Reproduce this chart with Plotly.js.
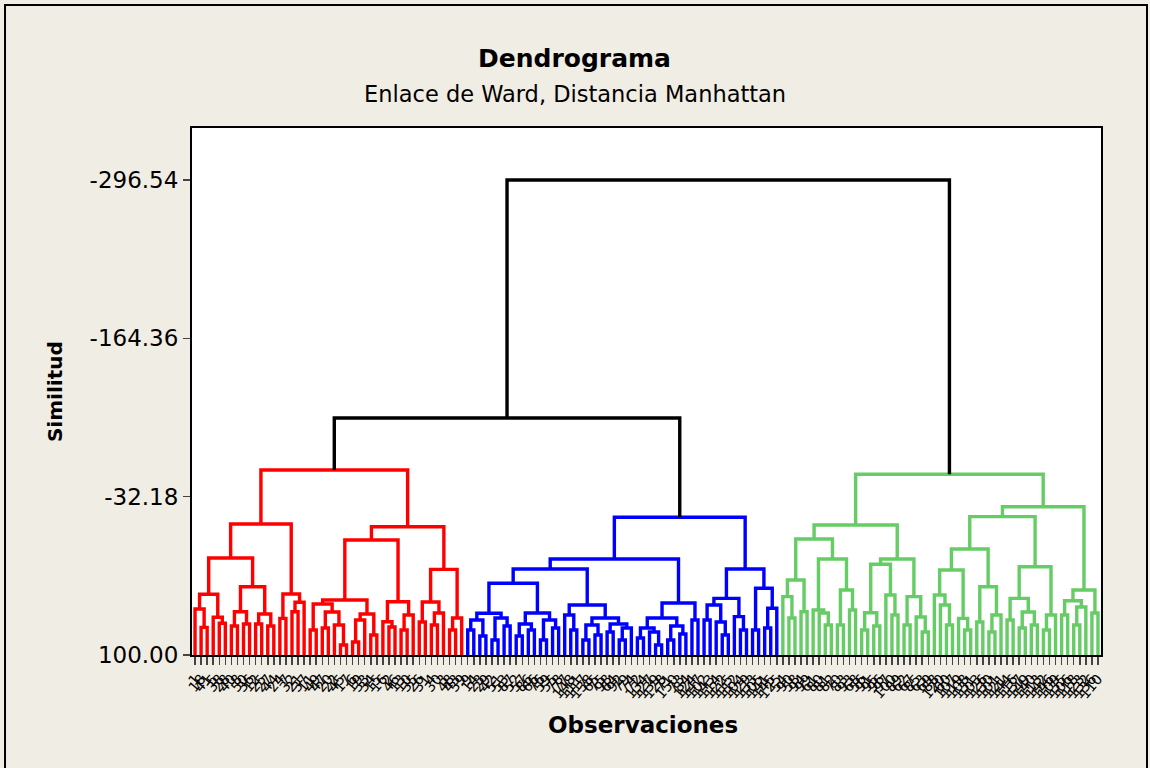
<!DOCTYPE html>
<html><head><meta charset="utf-8">
<script src="https://cdn.plot.ly/plotly-3.0.1.min.js"></script>
<style>html,body{margin:0;padding:0;background:#F0EDE4;} #chart{width:1150px;height:768px;}</style>
</head><body><div id="chart"></div>
<script>
// Dendrogram trees: node = [similarity, left, right]; leaf = leaf id
const redTree = [-54.4,
 [-9.4,
  [19.0,
   [49.3, [61.6, 0, [76.9, 1, 2]], [68.5, 3, [73.5, 4, 5]]],
   [43.0, [63.9, [75.8, 6, 7], [74.1, 8, 9]], [65.8, [74.1, 10, 11], [75.8, 12, 13]]]
  ],
  [49.1, [69.4, 14, 15], [56.0, [63.9, 16, 17], 18]]
 ],
 [-7.1,
  [4.0,
   [54.1,
    [57.4, [79.1, 19, 20], [64.1, [77.5, 21, 22], [75.0, 23, [91.7, 24, 25]]]],
    [65.8, [70.8, [89.2, 26, 27], 28], [83.3, 29, 30]]
   ],
   [55.5, [72.2, 31, [76.6, 32, 33]], [66.6, [79.1, 34, 35], 36]]
  ],
  [28.5,
   [55.8, [72.5, 37, 38], [64.9, [75.0, 39, 40], 41]],
   [69.1, [79.1, 42, 43], 44]
  ]
 ]
];
const blueTree = [-15.0,
 [19.9,
  [28.2,
   [40.1,
    [65.2, [70.8, [79.1, 45, 46], [84.1, 47, 48]], [69.1, [87.5, 49, 50], [75.8, 51, 52]]],
    [64.9, [74.1, [84.1, 53, 54], [79.1, 55, 56]], [70.8, [87.5, 57, 58], [77.5, 59, 60]]]
   ],
   [58.3,
    [66.6, 61, [79.1, 62, 63]],
    [69.1, [75.0, [87.5, 64, 65], [83.3, 66, 67]], [74.1, [80.8, 68, 69], [77.5, [87.5, 70, 71], 72]]]
   ]
  ],
  [56.6,
   [69.1, [77.5, [85.8, 73, 74], [80.8, 75, [91.7, 76, 77]]], [75.8, [87.5, 78, 79], [82.5, 80, 81]]],
   [70.8, 82, 83]
  ]
 ],
 [28.2,
  [52.7,
   [58.3, [70.8, 84, 85], [72.5, 86, [83.3, 87, 88]]],
   [68.0, 89, [79.1, 90, 91]]
  ],
  [44.3,
   [79.1, 92, 93],
   [61.0, [77.5, 94, 95], 96]
  ]
 ]
];
const greenTree = [-50.9,
 [-8.5,
  [3.2,
   [37.4, [51.3, 97, [69.1, 98, 99]], [63.9, 100, 101]],
   [19.9, [62.4, 102, [64.9, 103, [75.0, 104, 105]]], [45.7, [75.0, 106, 107], [62.4, 108, 109]]]
  ],
  [19.9,
   [24.3, [64.7, [79.1, 110, 111], [75.8, 112, 113]], [49.9, 114, [66.6, 115, 116]]],
   [51.3, [75.0, 117, 118], [68.3, 119, [80.8, 120, 121]]]
  ]
 ],
 [-23.8,
  [-15.5,
   [11.5,
    [29.0, [49.9, 122, [58.3, 123, [75.0, 124, 125]]], [69.4, 126, [79.1, 127, 128]]],
    [43.0, [72.5, 129, 130], [66.6, [80.8, 131, 132], 133]]
   ],
   [26.3,
    [52.7, [70.8, 134, 135], [64.1, [77.5, 136, 137], [75.0, 138, 139]]],
    [66.6, [79.1, 140, 141], 142]
   ]
  ],
  [45.7,
   [54.7, [66.6, 143, 144], [59.9, [75.0, 145, 146], 147]],
   [64.9, 148, 149]
  ]
 ]
];
const redBlueHeight = -97.85;
const rootHeight = -296.54;
const leafBase = 100;

const obsLabels = [1,18,41,5,38,28,40,8,50,36,12,25,27,44,24,7,32,21,37,11,49,47,20,22,45,17,6,19,33,34,15,16,2,46,13,10,35,26,31,4,30,3,48,43,39,
 9,14,23,29,42,51,53,87,52,57,86,66,76,59,55,78,77,148,111,117,138,65,75,98,64,92,79,74,72,134,127,139,128,71,150,73,84,124,147,102,143,114,122,115,112,104,129,133,105,141,145,125,
 54,90,58,94,99,61,80,81,82,70,83,93,68,56,91,95,96,97,100,89,62,67,85,63,69,88,120,60,107,119,108,131,103,126,130,101,121,144,116,137,149,140,113,142,146,109,135,106,118,123,132,136,110];

const yTickVals = [100, -32.18, -164.36, -296.54];
const yTickText = ['100.00', '-32.18', '-164.36', '-296.54'];

const colors = {red: '#FF0000', blue: '#0000FF', green: '#66CC66', black: '#000000'};

let leafCounter = 0;
function walk(node, seg) {
  if (!Array.isArray(node)) { const x = leafCounter++; return {x: x, y: leafBase}; }
  const a = walk(node[1], seg), b = walk(node[2], seg);
  const h = node[0];
  seg.x.push(a.x, a.x, b.x, b.x, null);
  seg.y.push(a.y, h, h, b.y, null);
  return {x: (a.x + b.x) / 2, y: h};
}
const segR = {x: [], y: []}, segB = {x: [], y: []}, segG = {x: [], y: []}, segK = {x: [], y: []};
const rTop = walk(redTree, segR);
const bTop = walk(blueTree, segB);
const gTop = walk(greenTree, segG);
// black links
segK.x.push(rTop.x, rTop.x, bTop.x, bTop.x, null);
segK.y.push(rTop.y, redBlueHeight, redBlueHeight, bTop.y, null);
const rbX = (rTop.x + bTop.x) / 2;
segK.x.push(rbX, rbX, gTop.x, gTop.x, null);
segK.y.push(redBlueHeight, rootHeight, rootHeight, gTop.y, null);

const nLeaves = leafCounter;
const leafPos = [];
for (let i = 0; i < nLeaves; i++) leafPos.push(i);

function tr(seg, color) {
  return {type: 'scatter', mode: 'lines', x: seg.x, y: seg.y, connectgaps: false,
    line: {color: color, width: 3.4}, hoverinfo: 'skip', showlegend: false};
}
const data = [tr(segR, colors.red), tr(segB, colors.blue), tr(segG, colors.green), tr(segK, colors.black)];

const F = 'DejaVu Sans, Verdana, sans-serif';
const layout = {
  width: 1150, height: 768,
  paper_bgcolor: '#F0EDE4', plot_bgcolor: '#FFFFFF',
  margin: {l: 192, r: 49, t: 128, b: 113},
  font: {family: F, color: '#000'},
  xaxis: {range: [-0.5, nLeaves - 0.5], tickvals: leafPos, ticktext: obsLabels.map(String),
    tickangle: -50, tickfont: {size: 14, family: F}, ticks: 'outside', ticklen: 8, tickwidth: 1.5,
    showline: true, mirror: true, linecolor: '#000', linewidth: 2, showgrid: false, zeroline: false, fixedrange: true},
  yaxis: {range: [100, -339.9], tickvals: yTickVals, ticktext: yTickText, tickfont: {size: 23, family: F},
    ticks: 'outside', ticklen: 7, tickwidth: 1.5, showline: true, mirror: true, linecolor: '#000', linewidth: 2,
    showgrid: false, zeroline: false, fixedrange: true},
  annotations: [
    {text: '<b>Dendrograma</b>', xref: 'paper', yref: 'paper', x: 0.4213, y: 1.1328, showarrow: false,
      xanchor: 'center', yanchor: 'middle', font: {size: 25, family: F}},
    {text: 'Enlace de Ward, Distancia Manhattan', xref: 'paper', yref: 'paper', x: 0.4213, y: 1.0645, showarrow: false,
      xanchor: 'center', yanchor: 'middle', font: {size: 22.5, family: F}},
    {text: '<b>Similitud</b>', xref: 'paper', yref: 'paper', x: -0.1507, y: 0.499, textangle: -90, showarrow: false,
      xanchor: 'center', yanchor: 'middle', font: {size: 20, family: F}},
    {text: '<b>Observaciones</b>', xref: 'paper', yref: 'paper', x: 0.496, y: -0.1328, showarrow: false,
      xanchor: 'center', yanchor: 'middle', font: {size: 23, family: F}}
  ],
  shapes: [
    {type: 'rect', xref: 'paper', yref: 'paper', x0: -0.2057, x1: 1.0506, y0: -0.3, y1: 1.2334,
      line: {color: '#000', width: 2}, fillcolor: 'rgba(0,0,0,0)', layer: 'below'}
  ]
};
Plotly.newPlot('chart', data, layout, {displayModeBar: false, staticPlot: true});
</script></body></html>
